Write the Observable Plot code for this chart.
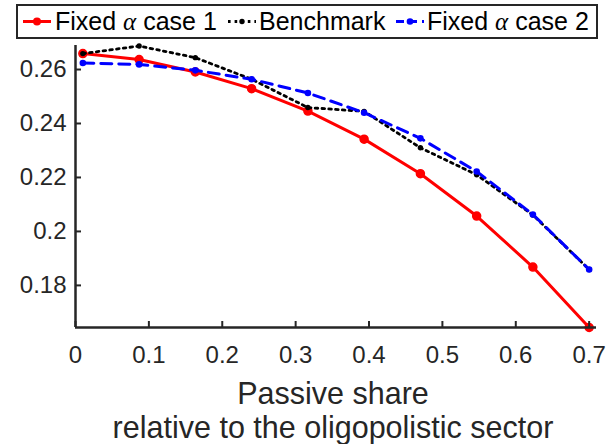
<!DOCTYPE html>
<html>
<head>
<meta charset="utf-8">
<script src="https://cdn.jsdelivr.net/npm/d3@7"></script>
<script src="https://cdn.jsdelivr.net/npm/@observablehq/plot@0.6"></script>
<style>
  html, body { margin: 0; padding: 0; background: #fff; }
  #wrap { position: relative; width: 607px; height: 444px; font-family: "Liberation Sans", Arial, sans-serif; }
  #legend { position: absolute; left: 16px; top: 4px; width: 578px; height: 31px; border: 2px solid #262626; background: #fff; box-sizing: content-box; }
  .item { position: absolute; top: 0; height: 31px; line-height: 31px; font-size: 25px; color: #000; white-space: nowrap; }
  .sw { position: absolute; top: 0; }
  .alpha { font-family: "Liberation Serif", "DejaVu Serif", serif; font-style: italic; }
</style>
</head>
<body>
<div id="wrap">
  <div id="chart"></div>
  <div id="legend"></div>
</div>
<script>
// ---- data ----
const passiveShare = [0.01, 0.0867, 0.1633, 0.24, 0.3167, 0.3933, 0.47, 0.5467, 0.6233, 0.7];
const fixedAlphaCase1 = [0.2659, 0.2637, 0.2591, 0.2529, 0.2446, 0.2342, 0.2214, 0.2057, 0.1868, 0.1644];
const benchmark = [0.2659, 0.2687, 0.2644, 0.2564, 0.2459, 0.2445, 0.2310, 0.2210, 0.2061, 0.1859];
const fixedAlphaCase2 = [0.2624, 0.2619, 0.2597, 0.2564, 0.2513, 0.2440, 0.2345, 0.2222, 0.2063, 0.1859];
const seriesNames = ["Fixed α case 1", "Benchmark", "Fixed α case 2"];
const xTicks = [0, 0.1, 0.2, 0.3, 0.4, 0.5, 0.6, 0.7];
const xTickLabels = ["0", "0.1", "0.2", "0.3", "0.4", "0.5", "0.6", "0.7"];
const yTicks = [0.18, 0.2, 0.22, 0.24, 0.26];
const yTickLabels = ["0.18", "0.2", "0.22", "0.24", "0.26"];
const xDomain = [0, 0.71];
const yDomain = [0.1644, 0.2689];
const xTitle = "Passive share\nrelative to the oligopolistic sector";

const toRows = (vals) => passiveShare.map((x, i) => ({x, y: vals[i]}));
const red = toRows(fixedAlphaCase1), blk = toRows(benchmark), blu = toRows(fixedAlphaCase2);
const axisColor = "#262626";

const chart = Plot.plot({
  width: 607,
  height: 444,
  marginLeft: 75,
  marginRight: 11,
  marginTop: 45,
  marginBottom: 117,
  style: {fontFamily: "'Liberation Sans', Arial, sans-serif", color: axisColor, background: "#fff", overflow: "visible"},
  x: {domain: xDomain},
  y: {domain: yDomain},
  marks: [
    Plot.line(red, {x: "x", y: "y", stroke: "#ff0000", strokeWidth: 3}),
    Plot.dot(red, {x: "x", y: "y", r: 4, fill: "#ff0000", stroke: "#ff0000", strokeWidth: 1.5}),
    Plot.line(blk, {x: "x", y: "y", stroke: "#000", strokeWidth: 2.8, strokeDasharray: "2.6,4.2"}),
    Plot.dot(blk, {x: "x", y: "y", r: 2.7, fill: "#000"}),
    Plot.line(blu, {x: "x", y: "y", stroke: "#0000ff", strokeWidth: 3, strokeDasharray: "11,7"}),
    Plot.dot(blu, {x: "x", y: "y", r: 3.3, fill: "#0000ff"}),
    Plot.ruleY([yDomain[0]], {stroke: axisColor, strokeWidth: 2.5}),
    Plot.ruleX([xDomain[0]], {stroke: axisColor, strokeWidth: 2.5}),
    Plot.axisX({ticks: xTicks, tickSize: 6, dy: -6, text: null, stroke: axisColor, strokeWidth: 2, label: null}),
    Plot.axisX({ticks: xTicks, tickSize: 0, tickPadding: 18,
      tickFormat: (d) => xTickLabels[xTicks.indexOf(d)], fontSize: 24, label: null}),
    Plot.axisY({ticks: yTicks, tickSize: 6, dx: 6, text: null, stroke: axisColor, strokeWidth: 2, label: null}),
    Plot.axisY({ticks: yTicks, tickSize: 0, tickPadding: 9,
      tickFormat: (d) => yTickLabels[yTicks.indexOf(d)], fontSize: 24, label: null}),
    Plot.text([xTitle], {frameAnchor: "bottom", lineAnchor: "top", dy: 52, dx: -3, fontSize: 30.5, lineHeight: 1.12, fill: axisColor})
  ]
});
document.getElementById("chart").appendChild(chart);

// ---- legend ----
const legend = document.getElementById("legend");
const items = [
  {name: seriesNames[0], color: "#ff0000", dash: null, w: 3, r: 4, sx: 5, tx: 37},
  {name: seriesNames[1], color: "#000", dash: "2.6,4", w: 2.8, r: 2.7, sx: 210, tx: 241},
  {name: seriesNames[2], color: "#0000ff", dash: "8,5", w: 3, r: 3.3, sx: 378, tx: 409}
];
for (const it of items) {
  const sw = document.createElementNS("http://www.w3.org/2000/svg", "svg");
  sw.setAttribute("class", "sw");
  sw.setAttribute("width", 28); sw.setAttribute("height", 31);
  sw.style.left = it.sx + "px";
  sw.innerHTML = `<line x1="0" x2="28" y1="15.5" y2="15.5" stroke="${it.color}" stroke-width="${it.w}" ${it.dash ? `stroke-dasharray="${it.dash}"` : ""}/><circle cx="14" cy="15.5" r="${it.r}" fill="${it.color}"/>`;
  legend.appendChild(sw);
  const d = document.createElement("div");
  d.className = "item";
  d.style.left = it.tx + "px";
  d.innerHTML = it.name.replace("α", '<span class="alpha">α</span>');
  legend.appendChild(d);
}
</script>
</body>
</html>
